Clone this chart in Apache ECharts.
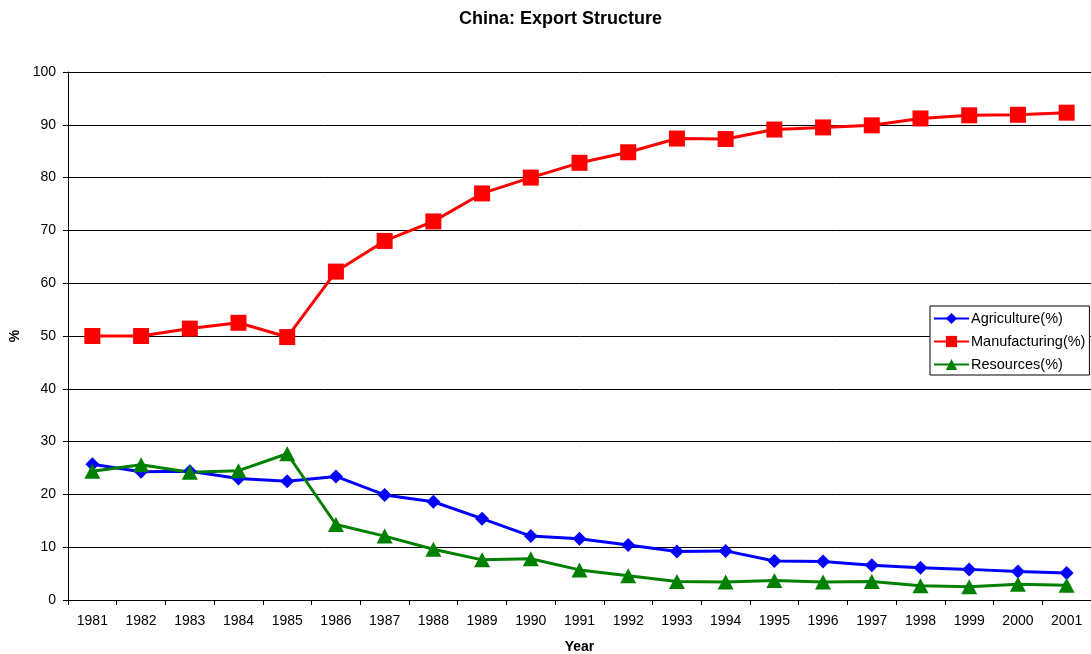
<!DOCTYPE html>
<html>
<head>
<meta charset="utf-8">
<script src="https://cdn.jsdelivr.net/npm/echarts@6/dist/echarts.min.js"></script>
<style>
  html, body { margin: 0; padding: 0; background: #fff; }
  #chart { width: 1091px; height: 654px; }
</style>
</head>
<body>
<div id="chart"></div>
<script>
// Export structure shares by year (%)
const years = ['1981','1982','1983','1984','1985','1986','1987','1988','1989','1990','1991',
               '1992','1993','1994','1995','1996','1997','1998','1999','2000','2001'];
const agriculture = [25.7, 24.3, 24.4, 23.0, 22.5, 23.4, 19.9, 18.6, 15.4, 12.1, 11.6,
                     10.4, 9.2, 9.3, 7.4, 7.3, 6.6, 6.1, 5.8, 5.4, 5.1];
const manufacturing = [50.0, 50.0, 51.4, 52.5, 49.8, 62.2, 68.0, 71.7, 77.0, 80.0, 82.8,
                       84.8, 87.4, 87.3, 89.1, 89.5, 89.9, 91.2, 91.8, 91.9, 92.3];
const resources = [24.4, 25.6, 24.2, 24.5, 27.7, 14.3, 12.1, 9.6, 7.6, 7.8, 5.7,
                   4.6, 3.5, 3.4, 3.7, 3.4, 3.5, 2.7, 2.5, 3.0, 2.8];

const font = 'Liberation Sans, Arial, sans-serif';
const chart = echarts.init(document.getElementById('chart'), null, { renderer: 'canvas' });

function lineSeries(name, data, color, symbol, size) {
  return {
    name: name,
    type: 'line',
    data: data,
    symbol: symbol,
    symbolSize: size,
    showAllSymbol: true,
    lineStyle: { color: color, width: 3 },
    itemStyle: { color: color, borderWidth: 0 },
    emphasis: { disabled: true },
    animation: false
  };
}

chart.setOption({
  animation: false,
  backgroundColor: '#ffffff',
  textStyle: { fontFamily: font },
  title: {
    text: 'China: Export Structure',
    left: 459,
    top: 10,
    padding: 0,
    textStyle: { fontFamily: font, fontSize: 18, fontWeight: 'bold', color: '#000' }
  },
  legend: {
    orient: 'vertical',
    left: 930,
    top: 306,
    padding: [5, 4, 3, 3],
    itemGap: 8,
    itemWidth: 35,
    itemHeight: 14,
    backgroundColor: '#fff',
    borderColor: '#000',
    borderWidth: 1,
    borderRadius: 0,
    textStyle: { fontFamily: font, fontSize: 14.5, color: '#000', padding: [0, 0, 0, -3] },
    data: ['Agriculture(%)', 'Manufacturing(%)', 'Resources(%)']
  },
  grid: { left: 68, right: 0, top: 72, bottom: 54, containLabel: false, outerBoundsMode: 'none' },
  xAxis: {
    type: 'category',
    data: years,
    boundaryGap: true,
    name: 'Year',
    nameLocation: 'middle',
    nameGap: 40,
    nameTextStyle: { fontFamily: font, fontSize: 14, fontWeight: 'bold', color: '#000' },
    axisLine: { lineStyle: { color: '#000', width: 1 } },
    axisTick: { show: true, inside: false, length: 5, interval: 0, lineStyle: { color: '#000' } },
    axisLabel: { interval: 0, margin: 14, fontFamily: font, fontSize: 14, color: '#000' },
    splitLine: { show: false }
  },
  yAxis: {
    type: 'value',
    min: 0,
    max: 100,
    interval: 10,
    name: '%',
    nameLocation: 'middle',
    nameGap: 46,
    nameRotate: 90,
    nameTextStyle: { fontFamily: font, fontSize: 14, fontWeight: 'bold', color: '#000' },
    axisLine: { show: true, lineStyle: { color: '#000', width: 1 } },
    axisTick: { show: true, inside: false, length: 5, lineStyle: { color: '#000' } },
    axisLabel: { margin: 12, fontFamily: font, fontSize: 14, color: '#000' },
    splitLine: { show: true, lineStyle: { color: '#000', width: 1 } }
  },
  series: [
    lineSeries('Agriculture(%)', agriculture, '#0000ff', 'diamond', 14),
    lineSeries('Manufacturing(%)', manufacturing, '#ff0000', 'rect', 16),
    lineSeries('Resources(%)', resources, '#008000', 'triangle', [16, 15])
  ]
});
</script>
</body>
</html>
